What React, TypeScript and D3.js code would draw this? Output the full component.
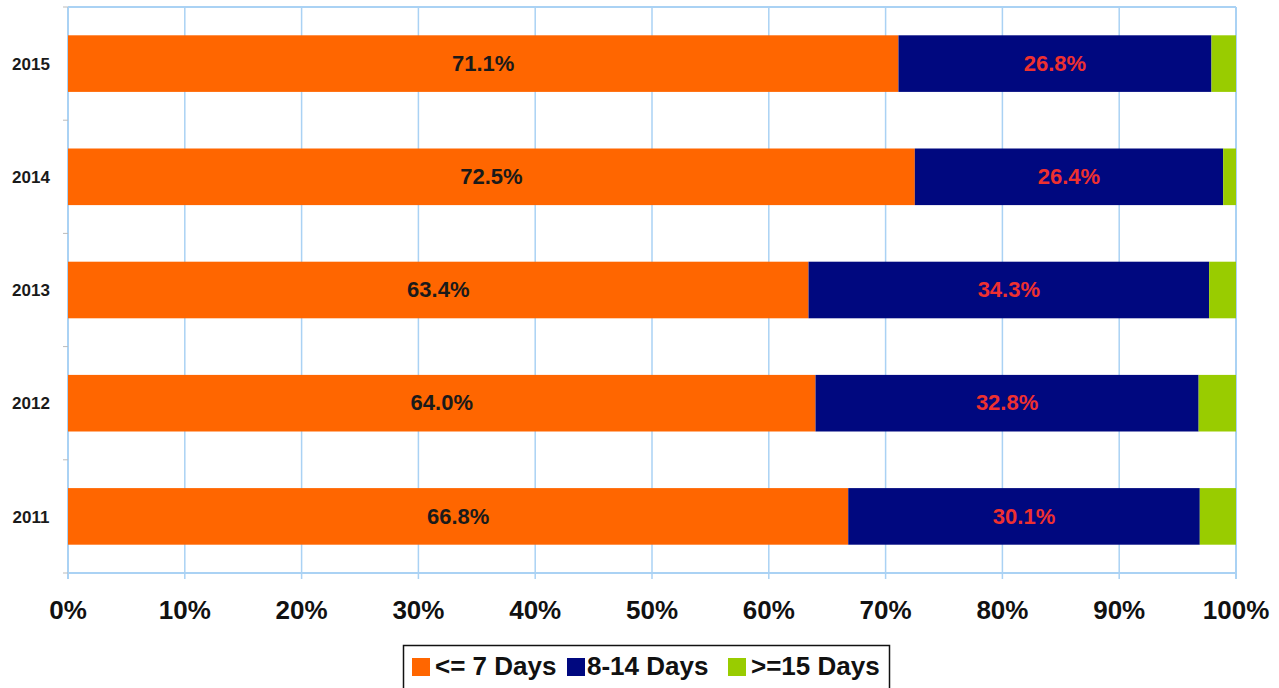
import React from "react";
import * as d3 from "d3";

const years = ["2015", "2014", "2013", "2012", "2011"];
const upTo7 = [71.1, 72.5, 63.4, 64.0, 66.8];
const days8to14 = [26.8, 26.4, 34.3, 32.8, 30.1];
const over15 = [2.1, 1.1, 2.3, 3.2, 3.1];
const xTicks = [0, 10, 20, 30, 40, 50, 60, 70, 80, 90, 100];
const seriesNames = ["<= 7 Days", "8-14 Days", ">=15 Days"];
const seriesColors = ["#ff6600", "#00087f", "#99cc00"];
const labelColors = ["#1a1a1a", "#ee3030", null];

const W = 1279;
const H = 688;
const FONT = "'Liberation Sans', Arial, sans-serif";
const GRID = "#aad2f4";

export default function App() {
  const x = d3.scaleLinear().domain([0, 100]).range([68, 1236]);
  const y = d3
    .scaleBand<string>()
    .domain(years)
    .range([7, 573])
    .paddingInner(0.5)
    .paddingOuter(0.25);

  const rows = years.map((yr, i) => ({
    year: yr,
    vals: [upTo7[i], days8to14[i], over15[i]],
  }));
  const stack = d3
    .stack<{ year: string; vals: number[] }, number>()
    .keys([0, 1, 2])
    .value((d, k) => d.vals[k]);
  const layers = stack(rows);

  const step = y.step();
  const yBoundaries = d3.range(years.length + 1).map((k) => 7 + k * step);

  const legendItems = [
    { sx: 412, tx: 435 },
    { sx: 567, tx: 587 },
    { sx: 728, tx: 751 },
  ];

  return (
    <svg
      width={W}
      height={H}
      style={{ position: "absolute", left: 0, top: 0, background: "#fff" }}
    >
      {/* plot frame and vertical gridlines */}
      <line x1={x(0)} x2={x(100)} y1={7} y2={7} stroke={GRID} strokeWidth={2} />
      {xTicks.map((t) => (
        <line
          key={"g" + t}
          x1={x(t)}
          x2={x(t)}
          y1={7}
          y2={579}
          stroke={GRID}
          strokeWidth={t === 0 || t === 100 ? 2 : 1.5}
        />
      ))}
      <line x1={x(0)} x2={x(100)} y1={573} y2={573} stroke={GRID} strokeWidth={2} />

      {/* category ticks */}
      {yBoundaries.map((yy, k) => (
        <line key={"yt" + k} x1={63} x2={68} y1={yy} y2={yy} stroke="#bbbbbb" strokeWidth={1} />
      ))}

      {/* stacked bars */}
      {layers.map((layer, li) =>
        layer.map((seg, ri) => (
          <rect
            key={`b${li}-${ri}`}
            x={x(seg[0])}
            y={y(seg.data.year)}
            width={x(seg[1]) - x(seg[0])}
            height={y.bandwidth()}
            fill={seriesColors[li]}
          />
        ))
      )}

      {/* segment value labels */}
      {layers.map((layer, li) =>
        labelColors[li]
          ? layer.map((seg, ri) => (
              <text
                key={`l${li}-${ri}`}
                x={(x(seg[0]) + x(seg[1])) / 2}
                y={(y(seg.data.year) as number) + y.bandwidth() / 2}
                dy="0.33em"
                textAnchor="middle"
                fontFamily={FONT}
                fontWeight="bold"
                fontSize={22}
                fill={labelColors[li] as string}
              >
                {seg.data.vals[li].toFixed(1)}%
              </text>
            ))
          : null
      )}

      {/* year labels */}
      {years.map((yr) => (
        <text
          key={"y" + yr}
          x={31}
          y={(y(yr) as number) + y.bandwidth() / 2}
          dy="0.36em"
          textAnchor="middle"
          fontFamily={FONT}
          fontWeight="bold"
          fontSize={17}
          fill="#1a1a1a"
        >
          {yr}
        </text>
      ))}

      {/* x tick labels */}
      {xTicks.map((t) => (
        <text
          key={"x" + t}
          x={x(t)}
          y={619}
          textAnchor="middle"
          fontFamily={FONT}
          fontWeight="bold"
          fontSize={26}
          fill="#111"
        >
          {t}%
        </text>
      ))}

      {/* legend */}
      <rect x={403.5} y={645.5} width={486} height={60} fill="#fff" stroke="#111" strokeWidth={1.5} />
      {seriesNames.map((name, i) => (
        <g key={"lg" + i}>
          <rect x={legendItems[i].sx} y={658} width={18} height={18} fill={seriesColors[i]} />
          <text
            x={legendItems[i].tx}
            y={675}
            fontFamily={FONT}
            fontWeight="bold"
            fontSize={26}
            fill="#111"
          >
            {name}
          </text>
        </g>
      ))}
    </svg>
  );
}
